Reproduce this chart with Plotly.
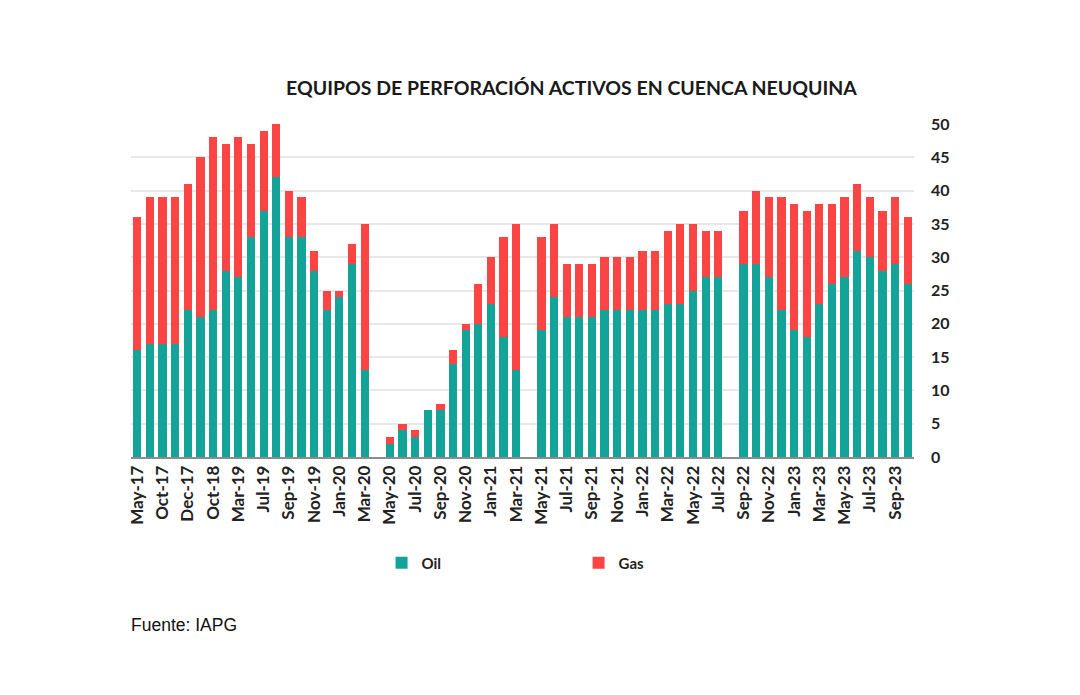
import plotly.graph_objects as go

months = ["May-17", "Jul-17", "Oct-17", "Nov-17", "Dec-17", "May-18", "Oct-18", "Jan-19",
          "Mar-19", "May-19", "Jul-19", "Aug-19", "Sep-19", "Oct-19", "Nov-19", "Dec-19",
          "Jan-20", "Feb-20", "Mar-20", "Apr-20",
          "May-20", "Jun-20", "Jul-20", "Aug-20", "Sep-20", "Oct-20", "Nov-20", "Dec-20",
          "Jan-21", "Feb-21", "Mar-21", "Apr-21",
          "May-21", "Jun-21", "Jul-21", "Aug-21", "Sep-21", "Oct-21", "Nov-21", "Dec-21",
          "Jan-22", "Feb-22", "Mar-22", "Apr-22", "May-22", "Jun-22", "Jul-22", "Aug-22",
          "Sep-22", "Oct-22", "Nov-22", "Dec-22", "Jan-23", "Feb-23", "Mar-23", "Apr-23",
          "May-23", "Jun-23", "Jul-23", "Aug-23", "Sep-23", "Oct-23"]

oil = [16, 17, 17, 17, 22, 21, 22, 28, 27, 33, 37, 42, 33, 33, 28, 22, 24, 29, 13, None,
       2, 4, 3, 7, 7, 14, 19, 20, 23, 18, 13, None,
       19, 24, 21, 21, 21, 22, 22, 22, 22, 22, 23, 23, 25, 27, 27, None,
       29, 29, 27, 22, 19, 18, 23, 26, 27, 31, 30, 28, 29, 26]

gas = [20, 22, 22, 22, 19, 24, 26, 19, 21, 14, 12, 8, 7, 6, 3, 3, 1, 3, 22, None,
       1, 1, 1, 0, 1, 2, 1, 6, 7, 15, 22, None,
       14, 11, 8, 8, 8, 8, 8, 8, 9, 9, 11, 12, 10, 7, 7, None,
       8, 11, 12, 17, 19, 19, 15, 12, 12, 10, 9, 9, 10, 10]

tick_labels = ["May-17", "Oct-17", "Dec-17", "Oct-18", "Mar-19", "Jul-19", "Sep-19", "Nov-19",
               "Jan-20", "Mar-20", "May-20", "Jul-20", "Sep-20", "Nov-20", "Jan-21", "Mar-21",
               "May-21", "Jul-21", "Sep-21", "Nov-21", "Jan-22", "Mar-22", "May-22", "Jul-22",
               "Sep-22", "Nov-22", "Jan-23", "Mar-23", "May-23", "Jul-23", "Sep-23"]

y_ticks = [0, 5, 10, 15, 20, 25, 30, 35, 40, 45, 50]

OIL_COLOR = "#13a398"
GAS_COLOR = "#fb4545"
FONT = "Lato"

fig = go.Figure()
fig.add_trace(go.Bar(x=months, y=oil, name="Oil", marker=dict(color=OIL_COLOR, line=dict(width=0))))
fig.add_trace(go.Bar(x=months, y=gas, name="Gas", marker=dict(color=GAS_COLOR, line=dict(width=0))))

fig.update_layout(
    width=1080, height=695,
    barmode="stack", bargap=0.35,
    plot_bgcolor="white", paper_bgcolor="white",
    margin=dict(l=131, r=166, t=124, b=238, autoexpand=False),
    font=dict(family=FONT, color="#222222"),
    showlegend=True,
    legend=dict(orientation="h", x=0.32, y=-0.318, xanchor="left", yanchor="middle",
                traceorder="normal",
                entrywidth=152, entrywidthmode="pixels",
                font=dict(family=FONT, size=15, color="#222222", weight="bold"),
                itemwidth=30),
    xaxis=dict(type="category", categoryorder="array", categoryarray=months,
               tickmode="array", tickvals=tick_labels, ticktext=tick_labels,
               tickangle=-90, showgrid=False, ticks="",
               showline=True, linecolor="#8c8c8c", linewidth=1.5,
               tickfont=dict(family=FONT, size=17, color="#222222", weight="bold")),
    yaxis=dict(side="right", range=[0, 50], tickvals=y_ticks, showgrid=True,
               gridcolor="#e8e8e8", gridwidth=1.5, zeroline=False, showline=False,
               ticks="", ticklabelstandoff=16,
               tickfont=dict(family=FONT, size=16, color="#222222", weight="bold")),
    annotations=[
        dict(text="EQUIPOS DE PERFORACIÓN ACTIVOS EN CUENCA NEUQUINA",
             xref="paper", yref="paper", x=0.563, y=1.111, xanchor="center", yanchor="middle",
             showarrow=False, font=dict(family=FONT, size=19.5, color="#1a1a1a", weight="bold")),
        dict(text="Fuente: IAPG", xref="paper", yref="paper", x=-0.002, y=-0.505,
             xanchor="left", yanchor="middle", showarrow=False,
             font=dict(family="Liberation Sans", size=17.5, color="#111111")),
    ],
)

fig.write_html("out.html", config={"displayModeBar": False},
               post_script="document.body.style.margin='0';document.body.style.padding='0';")
